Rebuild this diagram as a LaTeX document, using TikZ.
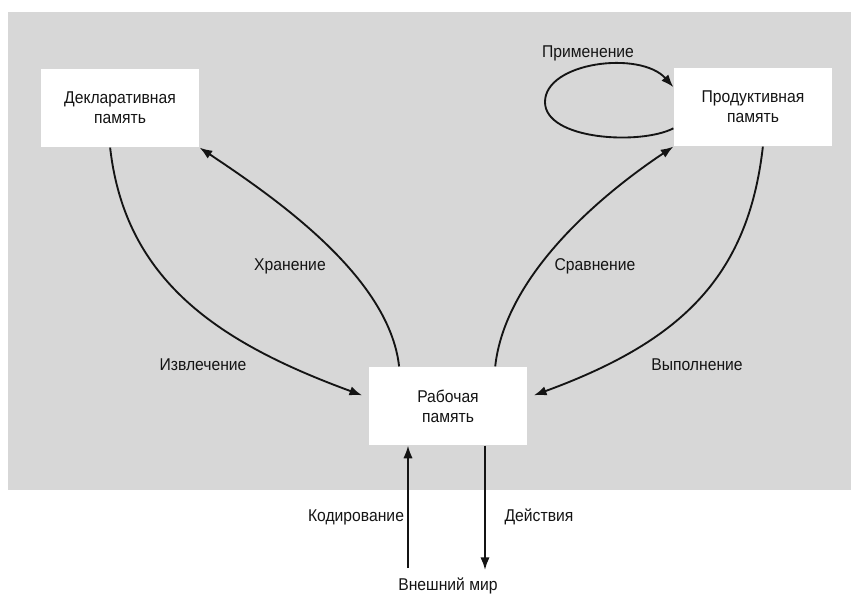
\documentclass[tikz,border=0pt]{standalone}
\usepackage{fontspec}
\setmainfont{Liberation Sans}[FakeStretch=0.92]
\usepackage{tikz}
\usetikzlibrary{arrows.meta}
\definecolor{ink}{HTML}{141414}
\definecolor{paper}{HTML}{D7D7D7}
\tikzset{>={Latex[length=9.5pt,width=7pt]},
  mem/.style={fill=white,minimum width=119pt,minimum height=59pt,inner sep=0pt,align=center,
    font=\fontsize{12.8}{15}\selectfont,text=ink},
  flow/.style={draw=ink,line width=1.4pt,->},
  lab/.style={font=\fontsize{12.8}{15}\selectfont,text=ink,inner sep=1pt}}

\begin{document}
\begin{tikzpicture}[x=0.75pt,y=-0.75pt]
  \useasboundingbox (0,0) rectangle (851,596);
  \fill[paper] (8,12) rectangle (851,490);
  \node[mem] (decl) at (120,108) {Декларативная\\память};
  \node[mem] (prod) at (753,107) {Продуктивная\\память};
  \node[mem] (work) at (448,406) {Рабочая\\память};
  \node[lab] (world) at (448,586) {Внешний мир};
  \coordinate (loopL) at (545,102);
  \coordinate (encBot) at (408,568);
  \coordinate (actBot) at (485,570);
  \draw[flow,shorten >=5pt] (decl.-104) .. controls +(15,133) and +(-150,-55) .. (work.174);
  \draw[flow] (work.141) .. controls +(-10,-90) and +(75,50) .. (decl.south east);
  \draw[flow] (work.40) .. controls +(10,-90) and +(-75,50) .. (prod.south west);
  \draw[flow,shorten >=5pt] (prod.-76) .. controls +(-15,133) and +(150,-55) .. (work.6);
  \draw[flow] (prod.195) .. controls +(-33,17) and +(0,38) .. (loopL)
    .. controls +(0,-40) and +(-33,-37) .. (prod.166);
  \draw[flow] (encBot) -- (encBot |- work.south);
  \draw[flow] (actBot |- work.south) -- (actBot);
  \node[lab] (lApply) at (588,53) {Применение};
  \node[lab] (lStore) at (290,266) {Хранение};
  \node[lab] (lMatch) at (595,266) {Сравнение};
  \node[lab] (lFetch) at (203,365) {Извлечение};
  \node[lab] (lRun) at (697,365) {Выполнение};
  \node[lab] (lCode) at (356,517) {Кодирование};
  \node[lab] (lAct) at (539,517) {Действия};
\end{tikzpicture}
\end{document}
